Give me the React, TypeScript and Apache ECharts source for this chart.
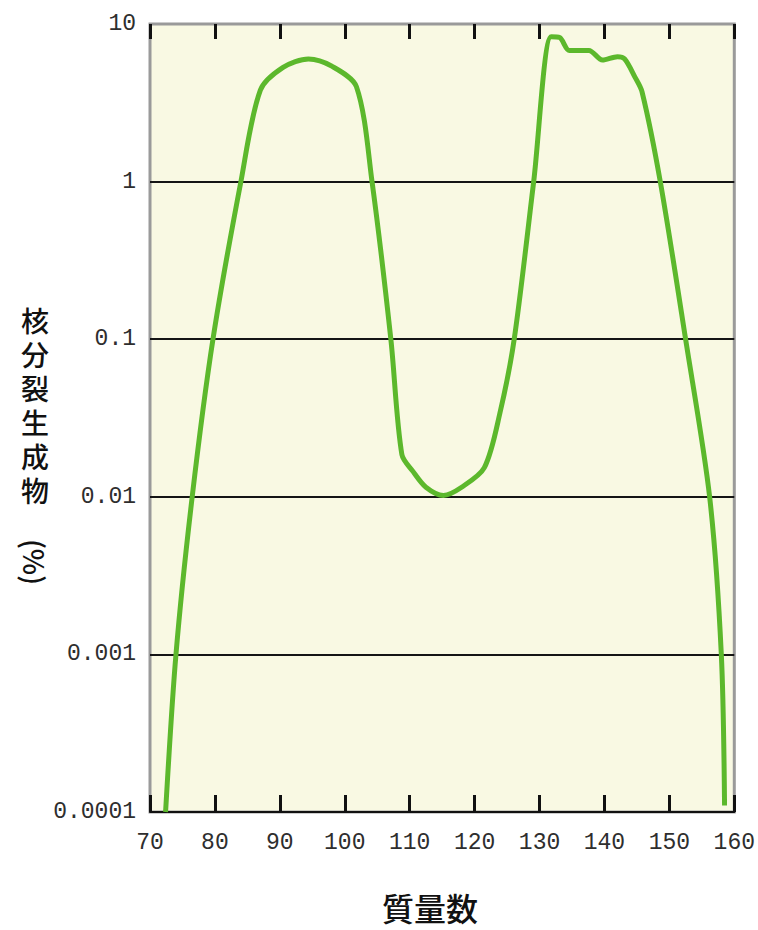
import React, { useEffect, useRef } from "react";
import * as echarts from "echarts";

// Mass numbers (x) and fission-product yields in % (y)
const massNumbers = [
  72.4, 74.0, 76.5, 79.7, 84.0, 87.0, 90.5, 94.4, 98.0, 101.8, 104.2, 107.1,
  108.8, 110.5, 112.5, 115.2, 118.0, 121.5, 123.9, 126.1, 129.1, 131.8, 133.1,
  134.6, 137.6, 139.7, 142.0, 143.1, 144.7, 145.8, 148.6, 152.5, 156.2, 158.0,
  158.5,
];
const yieldPercent = [
  0.0001, 0.001, 0.01, 0.1, 1.0, 3.8, 5.3, 6.0, 5.4, 4.0, 1.0, 0.1,
  0.0185, 0.0145, 0.0115, 0.0102, 0.0115, 0.0153, 0.034, 0.1, 1.0, 8.3, 8.2,
  6.8, 6.8, 5.9, 6.2, 6.0, 4.6, 3.7, 1.0, 0.1, 0.01, 0.001,
  0.00011,
];
const xMin = 70;
const xMax = 160;
const xStep = 10;
const yTickLabels = ["0.0001", "0.001", "0.01", "0.1", "1", "10"];
const yAxisTitleChars = ["核", "分", "裂", "生", "成", "物"];
const yAxisTitleUnit = "(%)";
const xAxisTitle = "質量数";

export default function App() {
  const ref = useRef<HTMLDivElement>(null);
  useEffect(() => {
    document.body.style.margin = "0";
    const chart = echarts.init(ref.current!, null, { renderer: "svg" });
    const tickFont = {
      fontFamily: "'Liberation Mono', 'DejaVu Sans Mono', monospace",
      fontSize: 23,
      color: "#2e2e2e",
    };
    const data = massNumbers.map((m, i) => [m, yieldPercent[i]]);
    const titleChars = yAxisTitleChars.map((ch, i) => ({
      type: "text",
      x: 35,
      y: 320 + i * 34,
      style: {
        text: ch,
        font: "500 28px 'Noto Sans CJK JP', sans-serif",
        lineHeight: 30,
        fill: "#111",
        align: "center",
        verticalAlign: "middle",
      },
    }));
    chart.setOption({
      animation: false,
      backgroundColor: "#ffffff",
      grid: {
        left: 150,
        right: 18,
        top: 24,
        bottom: 118,
        show: true,
        backgroundColor: "#f9f9e3",
        borderColor: "#9a9a9a",
        borderWidth: 3,
      },
      xAxis: [
        {
          type: "value",
          min: xMin,
          max: xMax,
          interval: xStep,
          position: "bottom",
          axisLine: { show: true, lineStyle: { color: "#111", width: 2 } },
          axisTick: {
            show: true,
            inside: true,
            length: 17,
            lineStyle: { color: "#111", width: 3 },
          },
          axisLabel: {
            ...tickFont,
            margin: 19,
          },
          splitLine: { show: false },
        },
        {
          type: "value",
          min: xMin,
          max: xMax,
          interval: xStep,
          position: "top",
          axisLine: { show: false },
          axisTick: {
            show: true,
            inside: true,
            length: 15,
            lineStyle: { color: "#111", width: 3 },
          },
          axisLabel: { show: false },
          splitLine: { show: false },
        },
      ],
      yAxis: {
        type: "log",
        logBase: 10,
        min: 0.0001,
        max: 10,
        axisLine: { show: false },
        axisTick: { show: false },
        axisLabel: {
          ...tickFont,
          margin: 14,
          formatter: (v: number) => {
            const idx = Math.round(Math.log10(v)) + 4;
            return yTickLabels[idx] ?? "";
          },
        },
        splitLine: {
          show: true,
          showMinLine: false,
          showMaxLine: false,
          lineStyle: { color: "#151515", width: 2 },
        },
      },
      series: [
        {
          type: "line",
          xAxisIndex: 0,
          data,
          smooth: 0.3,
          showSymbol: false,
          lineStyle: { color: "#5cb82c", width: 5 },
        },
      ],
      graphic: [
        ...titleChars,
        {
          type: "text",
          x: 35,
          y: 562,
          rotation: -Math.PI / 2,
          style: {
            text: yAxisTitleUnit,
            font: "500 28px 'Noto Sans CJK JP', sans-serif",
            fill: "#111",
            align: "center",
            verticalAlign: "middle",
          },
        },
        {
          type: "text",
          x: 430,
          y: 907,
          style: {
            text: xAxisTitle,
            font: "500 32px 'Noto Sans CJK JP', sans-serif",
            fill: "#111",
            align: "center",
            verticalAlign: "middle",
          },
        },
      ],
    });
    return () => chart.dispose();
  }, []);
  return (
    <div
      ref={ref}
      style={{ position: "fixed", left: 0, top: 0, width: 758, height: 930 }}
    />
  );
}
